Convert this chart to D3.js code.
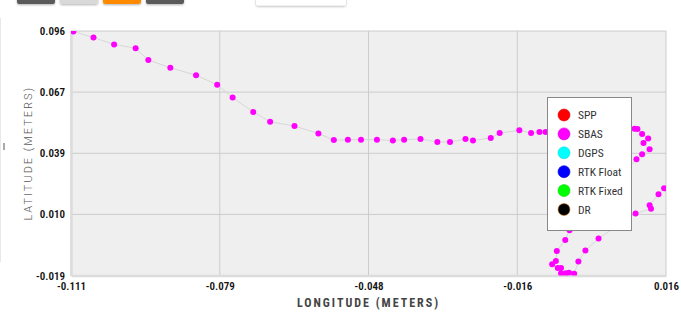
<!DOCTYPE html>
<html>
<head>
<meta charset="utf-8">
<script src="https://cdn.jsdelivr.net/npm/d3@7"></script>
<style>
  body { margin: 0; background: #fff; }
  svg { display: block; }
  .tick text { font-family: "Roboto Condensed", "Liberation Sans Narrow", "Arial Narrow", Roboto, sans-serif; }
</style>
</head>
<body>
<svg id="chart" width="681" height="314"></svg>
<script>
// axis extents + tick labels
const xDomain = [-0.111, 0.016];
const yDomain = [-0.019, 0.096];
const xTickLabels = ["-0.111", "-0.079", "-0.048", "-0.016", "0.016"];
const yTickLabels = ["-0.019", "0.010", "0.039", "0.067", "0.096"];

// track points (meters), in travel order; last one runs off the right edge
const lon = [
  -0.1105, -0.1062, -0.1018, -0.0972, -0.0945, -0.0898, -0.0843, -0.0798, -0.0765, -0.0721,
  -0.0685, -0.0633, -0.0582, -0.0549, -0.0519, -0.0491, -0.0457, -0.0423, -0.0399, -0.0364,
  -0.0328, -0.0301, -0.0268, -0.0252, -0.0214, -0.0195, -0.0153, -0.0128, -0.0110, -0.0097,
  0.0093, 0.0099, 0.0109, 0.0122, 0.0112, 0.0125, 0.0109, 0.0097,
  -0.0046, -0.0055, -0.0073, -0.0075, -0.0083, -0.0071, -0.0064, -0.0064, -0.0054, -0.0047,
  -0.0036, -0.0027, -0.0012, 0.0016,
  0.0095, 0.0128, 0.0125, 0.0144, 0.0156, 0.0182
];
const lat = [
  0.0958, 0.0929, 0.0897, 0.0879, 0.0824, 0.0787, 0.0752, 0.0707, 0.0647, 0.0579,
  0.0533, 0.0513, 0.0478, 0.0447, 0.0448, 0.0449, 0.0449, 0.0445, 0.0449, 0.0452,
  0.0438, 0.0438, 0.0452, 0.0445, 0.0457, 0.0480, 0.0493, 0.0480, 0.0485, 0.0485,
  0.0500, 0.0499, 0.0475, 0.0454, 0.0433, 0.0404, 0.0380, 0.0357,
  0.0023, -0.0023, -0.0075, -0.0122, -0.0137, -0.0155, -0.0155, -0.0180, -0.0180, -0.0177,
  -0.0182, -0.0124, -0.0072, -0.0016,
  0.0102, 0.0124, 0.0141, 0.0192, 0.0220, 0.0285
];

const legendNames = ["SPP", "SBAS", "DGPS", "RTK Float", "RTK Fixed", "DR"];
const legendColours = ["#ff0000", "#ff00ff", "#00ffff", "#0000ff", "#00ff00", "#000000"];

const points = lon.map((d, i) => ({ lon: d, lat: lat[i] }));

const svg = d3.select("#chart");
const plot = { left: 71, right: 666, top: 31, bottom: 275.5 };

const x = d3.scaleLinear().domain(xDomain).range([plot.left, plot.right]);
const y = d3.scaleLinear().domain(yDomain).range([plot.bottom, plot.top]);
const xTicks = d3.range(5).map(i => xDomain[0] + i * (xDomain[1] - xDomain[0]) / 4);
const yTicks = d3.range(5).map(i => yDomain[0] + i * (yDomain[1] - yDomain[0]) / 4);

// toolbar bits poking in at the top
const shadow = svg.append("defs").append("filter").attr("id", "shadow")
  .attr("x", "-20%").attr("y", "-50%").attr("width", "140%").attr("height", "200%");
shadow.append("feDropShadow").attr("dx", 0).attr("dy", 1).attr("stdDeviation", 1)
  .attr("flood-color", "#000").attr("flood-opacity", 0.3);

const buttons = [
  { x0: 17, x1: 55, fill: "#5a5a5a" },
  { x0: 60, x1: 98, fill: "#d9d9d9" },
  { x0: 103, x1: 141, fill: "#ff8a00" },
  { x0: 146, x1: 184, fill: "#5a5a5a" }
];
svg.selectAll("rect.btn").data(buttons).enter().append("rect")
  .attr("class", "btn")
  .attr("x", d => d.x0).attr("y", -6)
  .attr("width", d => d.x1 - d.x0).attr("height", 10)
  .attr("rx", 2)
  .attr("fill", d => d.fill)
  .attr("filter", "url(#shadow)");
svg.append("rect")
  .attr("x", 256).attr("y", -6).attr("width", 90).attr("height", 11.5).attr("rx", 2)
  .attr("fill", "#fff").attr("filter", "url(#shadow)");

// page edge + small handle on the left
svg.append("line").attr("x1", 0.5).attr("x2", 0.5).attr("y1", 18).attr("y2", 262)
  .attr("stroke", "#e8e8e8");
svg.append("rect").attr("x", 3).attr("y", 143).attr("width", 2).attr("height", 7).attr("fill", "#aaa");

// plot background
svg.append("rect")
  .attr("x", plot.left).attr("y", plot.top)
  .attr("width", plot.right - plot.left).attr("height", plot.bottom - plot.top)
  .attr("fill", "#efefef");

// grid
const grid = svg.append("g").attr("class", "grid");
grid.selectAll("line.gx").data(xTicks).enter().append("line")
  .attr("x1", d => x(d)).attr("x2", d => x(d))
  .attr("y1", plot.top).attr("y2", plot.bottom)
  .attr("stroke", "#cccccc").attr("stroke-width", 1);
grid.selectAll("line.gy").data(yTicks).enter().append("line")
  .attr("y1", d => y(d)).attr("y2", d => y(d))
  .attr("x1", plot.left).attr("x2", plot.right)
  .attr("stroke", "#cccccc").attr("stroke-width", 1);

// axes
const xAxis = svg.append("g")
  .attr("transform", `translate(0,${plot.bottom})`)
  .call(d3.axisBottom(x).tickValues(xTicks).tickFormat((d, i) => xTickLabels[i])
    .tickSize(0).tickPadding(7));
const yAxis = svg.append("g")
  .attr("transform", `translate(${plot.left},0)`)
  .call(d3.axisLeft(y).tickValues(yTicks).tickFormat((d, i) => yTickLabels[i])
    .tickSize(0).tickPadding(6));
[xAxis, yAxis].forEach(a => {
  a.select(".domain").attr("stroke", "#dcdcdc").attr("stroke-width", 2.5);
  a.selectAll(".tick text").attr("font-size", 11).attr("font-weight", 600).attr("fill", "#111");
});

// axis titles
svg.append("text")
  .attr("x", (plot.left + plot.right) / 2).attr("y", 307)
  .attr("text-anchor", "middle")
  .attr("font-family", "'Roboto Condensed', 'Liberation Sans Narrow', 'Arial Narrow', Roboto, sans-serif")
  .attr("font-size", 12).attr("font-weight", 700)
  .attr("letter-spacing", 2).attr("fill", "#444")
  .text("LONGITUDE (METERS)");
svg.append("text")
  .attr("transform", `translate(32,${(plot.top + plot.bottom) / 2}) rotate(-90)`)
  .attr("text-anchor", "middle")
  .attr("font-family", "Roboto, sans-serif")
  .attr("font-size", 11).attr("font-weight", 300)
  .attr("letter-spacing", 2).attr("fill", "#555")
  .text("LATITUDE (METERS)");

// track
svg.append("clipPath").attr("id", "plot-clip").append("rect")
  .attr("x", plot.left).attr("y", plot.top)
  .attr("width", plot.right - plot.left).attr("height", plot.bottom - plot.top);

const track = svg.append("g").attr("clip-path", "url(#plot-clip)");
track.append("path")
  .datum(points)
  .attr("fill", "none")
  .attr("stroke", "#d6d6d6")
  .attr("stroke-width", 1)
  .attr("d", d3.line().x(d => x(d.lon)).y(d => y(d.lat)));
track.selectAll("circle").data(points).enter().append("circle")
  .attr("cx", d => x(d.lon)).attr("cy", d => y(d.lat))
  .attr("r", 3)
  .attr("fill", "#ff00ff");

// legend
const legend = svg.append("g").attr("transform", "translate(547,97)");
legend.append("rect")
  .attr("x", 0.5).attr("y", 0.5).attr("width", 84).attr("height", 133)
  .attr("fill", "#fff").attr("stroke", "#888").attr("stroke-width", 1);
const item = legend.selectAll("g.item").data(legendNames).enter().append("g")
  .attr("class", "item")
  .attr("transform", (d, i) => `translate(17,${18 + i * 18.9})`);
item.append("circle")
  .attr("r", 6)
  .attr("fill", (d, i) => legendColours[i])
  .attr("stroke", (d, i) => i === 5 ? "#c87a20" : d3.color(legendColours[i]).darker(0.4))
  .attr("stroke-width", 0.6);
item.append("text")
  .attr("x", 14).attr("dy", "0.35em")
  .attr("font-family", "'Roboto Condensed', 'Liberation Sans Narrow', 'Arial Narrow', Roboto, sans-serif")
  .attr("font-size", 11.5).attr("fill", "#333")
  .text(d => d);
</script>
</body>
</html>
